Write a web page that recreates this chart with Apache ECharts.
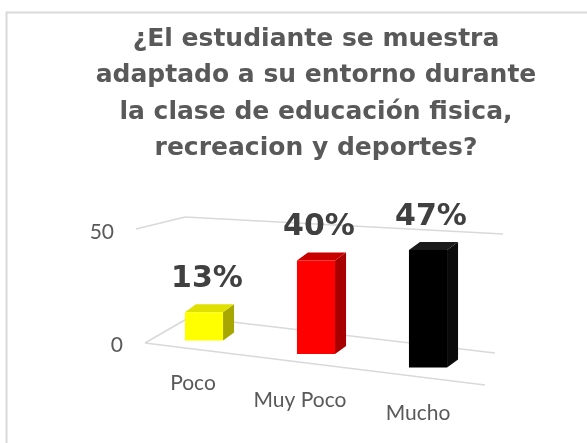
<!DOCTYPE html>
<html>
<head>
<meta charset="utf-8">
<script src="https://cdn.jsdelivr.net/npm/echarts@6/dist/echarts.min.js"></script>
<style>
html,body{margin:0;padding:0;background:#fff;}
#c{width:587px;height:443px;}
</style>
</head>
<body>
<div id="c"></div>
<script>
// ---- data ----
const titleText = '¿El estudiante se muestra\nadaptado a su entorno durante\nla clase de educación fisica,\nrecreacion y deportes?';
const categories = ['Poco', 'Muy Poco', 'Mucho'];
const values = [13, 40, 47];
const yMin = 0, yMax = 50, yInterval = 50;

// ---- styles ----
const faceColors = [
  { front: '#FFFF00', side: '#A6A600', top: '#E0E000' },
  { front: '#FF0000', side: '#A80000', top: '#C80000' },
  { front: '#000000', side: '#0A0A0A', top: '#1A1A1A' }
];
const SLOPE = 0.12;      // floor tilt (perspective)
const DEPTH_X = 11, DEPTH_Y = 8;
const GRID_COLOR = '#d9d9d9';

const chart = echarts.init(document.getElementById('c'), null, { renderer: 'canvas' });

function frameItem(params, api) {
  const cs = params.coordSys;
  const b = api.size([1, 0])[0];
  const mid = cs.x + cs.width / 2;
  const y0 = api.coord([0, yMin])[1];
  const y50 = api.coord([0, yMax])[1];
  const P = (fx, base, dy) => [mid + fx * b, base + dy];
  const line = (p1, p2) => ({ type: 'line', shape: { x1: p1[0], y1: p1[1], x2: p2[0], y2: p2[1] },
    style: { stroke: GRID_COLOR, lineWidth: 1.5 } });
  return {
    type: 'group',
    children: [
      line(P(-1.527, y0, -11), P(1.509, y0, 31)),   // front floor edge
      line(P(-1.527, y0, -11), P(-1.125, y0, -37)), // left floor edge
      line(P(-1.125, y0, -37), P(1.598, y0, -1)),   // back floor edge
      line(P(-1.607, y50, -8), P(-1.17, y50, -20)), // left wall top
      line(P(-1.17, y50, -20), P(1.67, y50, -3))    // back wall top
    ]
  };
}

function barItem(params, api) {
  const cs = params.coordSys;
  const idx = api.value(0);
  const v = api.value(1);
  const base = api.coord([idx, 0]);
  const topP = api.coord([idx, v]);
  const band = api.size([1, 0])[0];
  const midX = cs.x + cs.width / 2;
  const shift = (base[0] - midX) * SLOPE;
  const scale = 1 + shift / 200;
  const h = (base[1] - topP[1]) * scale;
  const y0 = base[1] + shift;
  const y1 = y0 - h;
  const w = band * 0.34;
  const x0 = base[0] - w / 2, x1 = x0 + w;
  const c = faceColors[params.dataIndex];
  return {
    type: 'group',
    children: [
      { type: 'polygon', shape: { points: [[x1, y1], [x1 + DEPTH_X, y1 - DEPTH_Y], [x1 + DEPTH_X, y0 - DEPTH_Y], [x1, y0]] },
        style: { fill: c.side } },
      { type: 'polygon', shape: { points: [[x0, y1], [x0 + DEPTH_X, y1 - DEPTH_Y], [x1 + DEPTH_X, y1 - DEPTH_Y], [x1, y1]] },
        style: { fill: c.top } },
      { type: 'rect', shape: { x: x0, y: y1, width: w, height: h }, style: { fill: c.front } },
      { type: 'text', style: { text: v + '%', x: base[0] + 3, y: y1 - DEPTH_Y - 25,
        align: 'center', verticalAlign: 'middle', fontFamily: 'DejaVu Sans', fontWeight: 'bold',
        fontSize: 30, fill: '#404040' } }
    ]
  };
}

const labelFont = { fontFamily: 'Lato', fontSize: 21, color: '#595959' };
const xRich = {
  c0: Object.assign({ padding: [11, 22, 0, 0] }, labelFont),
  c1: Object.assign({ padding: [28, 32, 0, 0] }, labelFont),
  c2: Object.assign({ padding: [41, 20, 0, 0] }, labelFont)
};
const yRich = {
  z: Object.assign({ padding: [0, 0, 18, 0] }, labelFont),
  f: Object.assign({ padding: [0, 9, 10, 0] }, labelFont)
};

chart.setOption({
  animation: false,
  backgroundColor: '#ffffff',
  title: {
    text: titleText,
    left: 316,
    top: 21,
    padding: 0,
    textAlign: 'center',
    textStyle: { fontFamily: 'DejaVu Sans', fontWeight: 'bold', fontSize: 25, lineHeight: 36.5, color: '#595959' }
  },
  graphic: [{
    type: 'rect', silent: true, z: -1,
    shape: { x: 6.5, y: 12.5, width: 620, height: 460 },
    style: { fill: 'none', stroke: GRID_COLOR, lineWidth: 2 }
  }],
  grid: { left: 148, right: 103, top: 237, bottom: 89 },
  xAxis: {
    type: 'category',
    data: categories,
    axisLine: { show: false },
    axisTick: { show: false },
    axisLabel: {
      margin: 8,
      formatter: (v, i) => '{c' + i + '|' + v + '}',
      rich: xRich
    }
  },
  yAxis: {
    type: 'value',
    min: yMin, max: yMax, interval: yInterval,
    axisLine: { show: false },
    axisTick: { show: false },
    splitLine: { show: false },
    axisLabel: {
      margin: 25,
      formatter: v => (v === 0 ? '{z|' + v + '}' : '{f|' + v + '}'),
      rich: yRich
    }
  },
  series: [
    {
      type: 'custom', name: 'frame', silent: true, z: 1,
      renderItem: frameItem,
      data: [[0, 0]],
      encode: { x: 0, y: 1 }
    },
    {
      type: 'custom', name: 'Respuestas', z: 2,
      renderItem: barItem,
      data: values.map((v, i) => [i, v]),
      encode: { x: 0, y: 1 }
    }
  ]
});
</script>
</body>
</html>
